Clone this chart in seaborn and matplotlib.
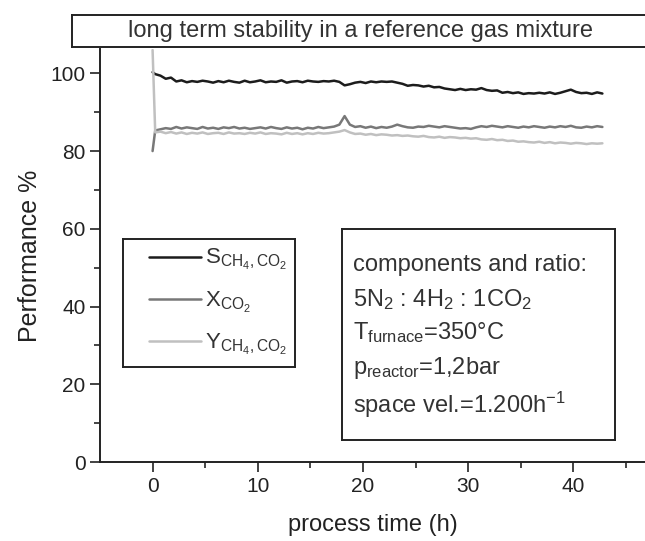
import numpy as np
import pandas as pd
import matplotlib
matplotlib.use('Agg')
import matplotlib.pyplot as plt
import seaborn as sns

sns.set_style('ticks')
plt.rcParams['font.family'] = ['Liberation Sans', 'DejaVu Sans']
plt.rcParams['mathtext.fontset'] = 'custom'
plt.rcParams['mathtext.rm'] = 'Liberation Sans'
plt.rcParams['mathtext.it'] = 'Liberation Sans'

# process time in hours (first point is the start-up spike)
time_h = np.concatenate([[0.0], np.arange(0.25, 43.0, 0.5)])

s_ch4 = [100.3, 99.8, 99.4, 98.6, 98.9, 97.9, 98.2, 97.7, 98.0, 97.8,
         98.1, 97.9, 97.6, 98.0, 97.7, 98.1, 97.8, 97.6, 98.1, 97.7,
         97.9, 98.2, 97.7, 97.9, 97.8, 98.2, 97.6, 97.9, 98.0, 97.7,
         98.1, 97.9, 97.8, 98.0, 97.9, 98.1, 97.8, 96.9, 97.2, 97.6,
         97.8, 97.5, 97.9, 97.7, 97.9, 97.8, 97.9, 97.6, 97.3, 96.8,
         97.0, 96.9, 96.6, 96.8, 96.4, 96.5, 96.1, 95.9, 95.7, 96.0,
         95.7, 95.9, 95.8, 96.2, 95.7, 95.5, 95.6, 95.0, 95.2, 94.9,
         95.1, 94.7, 94.9, 94.8, 95.0, 94.8, 95.1, 94.7, 95.0, 95.4,
         95.8, 95.2, 94.9, 95.0, 94.7, 95.1, 94.8]
x_co2 = [80.0, 85.3, 85.6, 85.9, 85.7, 86.2, 85.8, 86.1, 85.9, 85.7,
         86.2, 85.8, 86.0, 85.7, 86.1, 85.9, 86.2, 85.8, 86.0, 85.7,
         85.9, 86.1, 85.8, 86.2, 85.9, 85.7, 86.1, 85.8, 86.0, 85.6,
         86.0, 85.8, 86.2, 85.9, 86.1, 86.3, 86.8, 89.0, 86.8, 86.2,
         86.4, 86.0, 86.3, 85.9, 86.2, 86.0, 86.3, 86.8, 86.4, 86.1,
         86.0, 86.3, 86.2, 86.5, 86.3, 86.1, 86.4, 86.2, 86.0, 85.8,
         85.9, 85.7, 86.1, 86.4, 86.2, 86.5, 86.3, 86.1, 86.4, 86.2,
         86.0, 86.3, 86.1, 86.4, 86.2, 86.0, 86.3, 86.1, 86.4, 86.2,
         86.5, 86.1, 86.0, 86.3, 86.1, 86.4, 86.2]
y_ch4 = [106.0, 84.8, 85.0, 84.6, 84.9, 84.5, 84.8, 84.4, 84.7, 84.5,
         84.8, 84.4, 84.6, 84.7, 84.4, 84.8, 84.5, 84.6, 84.4, 84.7,
         84.5, 84.8, 84.4, 84.6, 84.5, 84.3, 84.7, 84.4, 84.6, 84.3,
         84.6, 84.4, 84.7, 84.5, 84.6, 84.8, 85.0, 85.4, 84.8, 84.4,
         84.5, 84.2, 84.4, 84.1, 84.3, 84.2, 84.0, 84.1, 83.9, 84.0,
         83.8, 83.7, 83.9, 83.6, 83.5, 83.7, 83.4, 83.6, 83.5, 83.3,
         83.4, 83.2, 83.3, 83.0, 82.9, 83.1, 82.8, 82.9, 82.6, 82.7,
         82.4, 82.5, 82.3, 82.2, 82.4, 82.1, 82.3, 82.0, 82.2, 82.1,
         81.9, 82.1, 82.0, 81.8, 82.0, 81.9, 82.0]

series_names = ['S', 'X', 'Y']
series_labels = [r'S$_{\mathrm{CH_4,CO_2}}$', r'X$_{\mathrm{CO_2}}$', r'Y$_{\mathrm{CH_4,CO_2}}$']
colors = {'S': '#1c1c1c', 'X': '#787878', 'Y': '#c0c0c0'}

df = pd.concat([
    pd.DataFrame({'time': time_h, 'value': vals, 'series': name})
    for name, vals in zip(series_names, [s_ch4, x_co2, y_ch4])
])

fig = plt.figure(figsize=(6.45, 5.41), dpi=100)
ax = fig.add_axes([0.155, 0.146, 0.845, 0.763])
sns.lineplot(data=df, x='time', y='value', hue='series', palette=colors,
             hue_order=series_names, linewidth=1.8, legend=False, ax=ax)

ax.set_xlim(-5, 46.8)
ax.set_ylim(0, 106.2)
ax.set_xticks([0, 10, 20, 30, 40])
ax.set_xticks([5, 15, 25, 35, 45], minor=True)
ax.set_yticks([0, 20, 40, 60, 80, 100])
ax.set_yticks([10, 30, 50, 70, 90], minor=True)
ax.tick_params(which='major', direction='out', length=7, width=1.2, labelsize=15,
               colors='#222222', pad=3.5)
ax.tick_params(which='minor', direction='out', length=4, width=1.2)
ax.set_xlabel('process time (h)', fontsize=17, labelpad=13, color='#222222')
ax.set_ylabel('Performance %', fontsize=18, labelpad=6, color='#222222')
sns.despine(ax=ax)
for side in ['left', 'bottom']:
    ax.spines[side].set_linewidth(1.4)
    ax.spines[side].set_color('#222222')

# legend frame drawn as its own box, legend entries placed inside
lbox = ax.inset_axes([0.042, 0.229, 0.316, 0.312])
lbox.set_xticks([])
lbox.set_yticks([])
lbox.patch.set_alpha(0)
for sp in lbox.spines.values():
    sp.set_linewidth(1.4)
    sp.set_color('#222222')
leg = ax.legend(ax.lines[:3], series_labels, loc='upper left',
                bbox_to_anchor=(0.09, 0.52), borderaxespad=0, borderpad=0,
                fontsize=16, handlelength=2.35, labelspacing=0.78,
                frameon=False, handletextpad=0.15)
for t in leg.get_texts():
    t.set_color('#333333')

# info box
box = ax.inset_axes([0.444, 0.053, 0.501, 0.512])
box.set_xticks([])
box.set_yticks([])
for sp in box.spines.values():
    sp.set_linewidth(1.4)
    sp.set_color('#222222')
info_lines = ['components and ratio:',
              r'5N$_2$ : 4H$_2$ : 1CO$_2$',
              r'T$_{\mathrm{furnace}}$=350°C',
              r'p$_{\mathrm{reactor}}$=1,2bar',
              r'space vel.=1.200h$^{-1}$']
info_y = [0.80, 0.635, 0.48, 0.315, 0.13]
for line, yy in zip(info_lines, info_y):
    box.text(0.04, yy, line, fontsize=17, color='#333333',
             transform=box.transAxes, va='baseline', ha='left')

# title box
tbox = fig.add_axes([72 / 645, 1 - 47 / 541, 1.0, 32 / 541])
tbox.set_xticks([])
tbox.set_yticks([])
for sp in tbox.spines.values():
    sp.set_linewidth(1.4)
    sp.set_color('#222222')
tbox.text((360 - 72) / 645, 0.5, 'long term stability in a reference gas mixture',
          fontsize=17, color='#333333', ha='center', va='center',
          transform=tbox.transAxes)

fig.savefig('out.png', dpi=100)
